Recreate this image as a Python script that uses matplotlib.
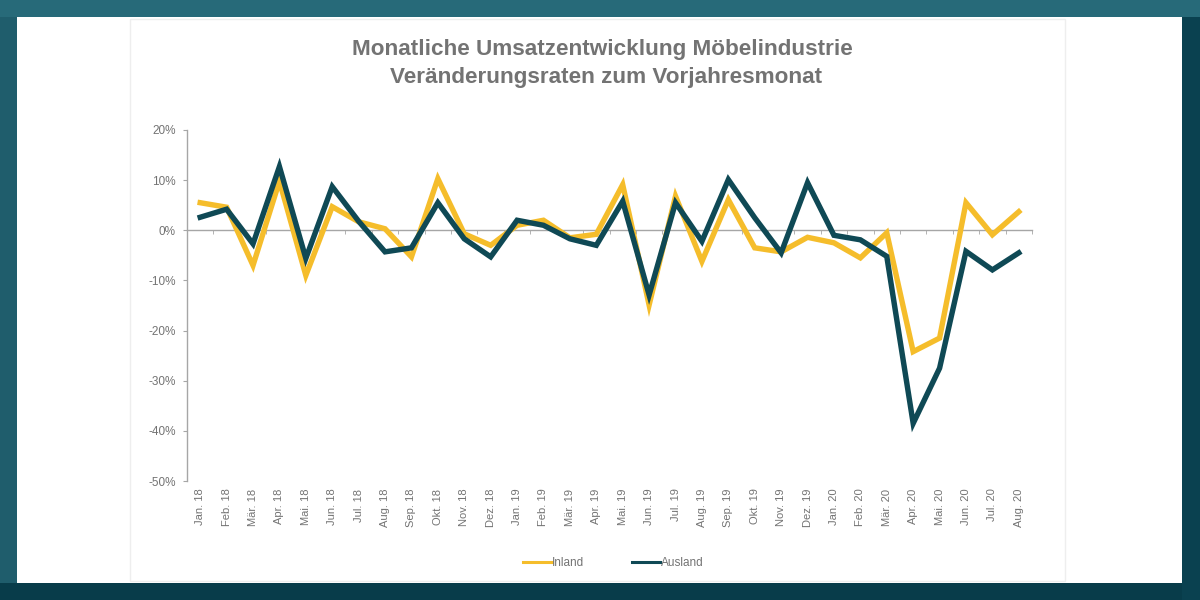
import matplotlib
matplotlib.use("Agg")
import matplotlib.pyplot as plt
from matplotlib.patches import Rectangle
from matplotlib.ticker import FixedLocator, FuncFormatter

plt.rcParams["font.family"] = ["Liberation Sans", "DejaVu Sans"]

months = [
    "Jan. 18", "Feb. 18", "Mär. 18", "Apr. 18", "Mai. 18", "Jun. 18", "Jul. 18", "Aug. 18",
    "Sep. 18", "Okt. 18", "Nov. 18", "Dez. 18", "Jan. 19", "Feb. 19", "Mär. 19", "Apr. 19",
    "Mai. 19", "Jun. 19", "Jul. 19", "Aug. 19", "Sep. 19", "Okt. 19", "Nov. 19", "Dez. 19",
    "Jan. 20", "Feb. 20", "Mär. 20", "Apr. 20", "Mai. 20", "Jun. 20", "Jul. 20", "Aug. 20",
]

# Veränderung zum Vorjahresmonat in %
inland = [
    5.5, 4.6, -7.0, 9.8, -9.0, 4.7, 1.7, 0.3,
    -5.3, 10.3, -0.7, -3.0, 1.0, 2.0, -1.5, -0.8,
    9.1, -14.9, 6.8, -6.2, 6.1, -3.5, -4.3, -1.4,
    -2.5, -5.5, -0.5, -24.2, -21.5, 5.5, -0.9, 3.7,
]
ausland = [
    2.6, 4.2, -2.7, 12.7, -5.6, 8.7, 1.8, -4.3,
    -3.5, 5.5, -1.7, -5.3, 2.0, 1.0, -1.7, -3.0,
    5.8, -12.9, 5.5, -2.2, 10.1, 2.5, -4.5, 9.5,
    -1.0, -1.9, -5.2, -38.5, -27.5, -4.2, -7.9, -4.5,
]

YELLOW = "#f5bd2b"
DARK = "#0f4955"
GREY = "#a6a6a6"
TEXT = "#737373"

fig = plt.figure(figsize=(12, 6), dpi=100)
fig.patch.set_facecolor("white")

# frame around the picture
fig.patches.append(Rectangle((0, 0), 1, 1, transform=fig.transFigure,
                             facecolor="#1f5d6c", edgecolor="none", zorder=-10))
fig.patches.append(Rectangle((0, 0), 1, 17 / 600, transform=fig.transFigure,
                             facecolor="#083c4a", edgecolor="none", zorder=-9))
fig.patches.append(Rectangle((1182 / 1200, 0), 18 / 1200, 1, transform=fig.transFigure,
                             facecolor="#0a4150", edgecolor="none", zorder=-9))
fig.patches.append(Rectangle((0, 583 / 600), 1, 17 / 600, transform=fig.transFigure,
                             facecolor="#276a79", edgecolor="none", zorder=-9))
fig.patches.append(Rectangle((17 / 1200, 17 / 600), 1165 / 1200, 566 / 600,
                             transform=fig.transFigure, facecolor="white",
                             edgecolor="none", zorder=-8))
# faint chart box
fig.patches.append(Rectangle((130 / 1200, 19 / 600), 935 / 1200, 562 / 600,
                             transform=fig.transFigure, facecolor="none",
                             edgecolor="#eeeeee", linewidth=1, zorder=-7))

ax = fig.add_axes([187 / 1200, 1 - 481 / 600, 845 / 1200, 351 / 600])
ax.set_facecolor("none")

x = list(range(len(months)))
ax.plot(x, inland, color=YELLOW, linewidth=3.9, label="Inland", zorder=3,
        solid_joinstyle="miter")
ax.plot(x, ausland, color=DARK, linewidth=3.9, label="Ausland", zorder=4,
        solid_joinstyle="miter")

ax.set_xlim(-0.5, len(months) - 0.5)
ax.set_ylim(-50, 20)
ax.set_yticks(range(-50, 21, 10))
ax.yaxis.set_major_formatter(FuncFormatter(lambda v, p: f"{int(v)}%"))

for s in ["top", "right"]:
    ax.spines[s].set_visible(False)
ax.spines["left"].set_color(GREY)
ax.spines["left"].set_linewidth(1)
ax.spines["bottom"].set_position(("data", 0))
ax.spines["bottom"].set_color(GREY)
ax.spines["bottom"].set_linewidth(1)

ax.set_xticks(x)
ax.set_xticklabels(months, rotation=90, fontsize=8, color=TEXT, va="top")
ax.xaxis.set_minor_locator(FixedLocator([i + 0.5 for i in range(len(months))]))
ax.tick_params(axis="x", which="major", length=0, pad=186)
ax.tick_params(axis="x", which="minor", length=3, color=GREY, direction="out")
ax.tick_params(axis="y", length=3, color=GREY, labelsize=8.5, labelcolor=TEXT, pad=5)

fig.text(0.502, 1 - 50 / 600, "Monatliche Umsatzentwicklung Möbelindustrie",
         ha="center", va="center", fontsize=16.2, fontweight="bold", color=TEXT)
fig.text(0.505, 1 - 78 / 600, "Veränderungsraten zum Vorjahresmonat",
         ha="center", va="center", fontsize=16.2, fontweight="bold", color=TEXT)

leg = fig.legend(loc="center", bbox_to_anchor=(0.511, 1 - 563 / 600), ncol=2,
                 frameon=False, fontsize=8.5, handlelength=2.4, handletextpad=0.0,
                 columnspacing=4.1)
for line in leg.get_lines():
    line.set_linewidth(2.2)
for t in leg.get_texts():
    t.set_color(TEXT)

fig.savefig("out.png", dpi=100)
